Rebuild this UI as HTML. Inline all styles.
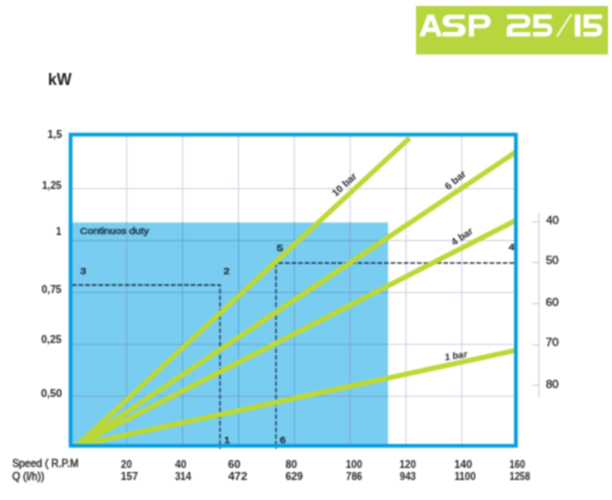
<!DOCTYPE html>
<html><head><meta charset="utf-8">
<style>
html,body{margin:0;padding:0;background:#fff;width:612px;height:500px;overflow:hidden}
svg{display:block}
text{font-family:"Liberation Sans",sans-serif}
</style></head>
<body>
<svg width="612" height="500" viewBox="0 0 612 500">
<defs><filter id="bl" color-interpolation-filters="sRGB" x="0" y="0" width="612" height="500" filterUnits="userSpaceOnUse"><feConvolveMatrix order="3" kernelMatrix="1 2 1 2 4 2 1 2 1" divisor="16" edgeMode="duplicate" preserveAlpha="true"/></filter></defs>
<g filter="url(#bl)">
<rect x="0" y="0" width="612" height="500" fill="#fff"/>

<!-- title box -->
<rect x="416" y="6" width="192" height="48.5" fill="#b7d53f"/>
<g fill="#fff" fill-rule="evenodd">
  <path d="M419.4,36.6 L427.5,14.8 L433.9,14.8 L442,36.6 L437,36.6 L435.3,31.9 L426.4,31.9 L424.6,36.6 Z M430.8,19.9 L433.6,27.4 L428,27.4 Z"/>
  <path d="M464.6,14.8 H449.2 C445.4,14.8 442.5,17.5 442.5,21 C442.5,24.4 445.4,27.1 449.2,27.1 H456.4 C457.7,27.1 458.7,28.2 458.7,29.6 C458.7,31 457.7,32.1 456.4,32.1 H442.5 V36.6 H458.6 C462.5,36.6 465.7,33.6 465.7,29.9 C465.7,26.2 462.5,23.2 458.6,23.2 H451.3 C450,23.2 449,22.3 449,21.1 C449,19.9 450,19 451.3,19 H464.6 Z"/>
  <path d="M468.9,14.8 H484.5 C487.9,14.8 490.7,17.6 490.7,21.5 C490.7,25.2 487.9,28.2 484.5,28.2 H474 V36.6 H468.9 Z M474,19 V24.3 H482.6 C484,24.3 485.1,23.1 485.1,21.65 C485.1,20.2 484,19 482.6,19 Z"/>
  <path d="M507,14.5 H524 C527.5,14.5 530.4,17.3 530.4,21 C530.4,24.8 527.5,28 524,28 H514.5 C513.3,28 512.4,28.9 512.4,30.1 V32.2 H530.4 V36.4 H506.7 V29.8 C506.7,26.3 509.6,23.5 513.1,23.5 H523.4 C524.6,23.5 525.6,22.5 525.6,21.1 C525.6,19.8 524.6,18.7 523.4,18.7 H507 Z"/>
  <path d="M533.4,14.5 H551.7 V18.9 H538.5 V23.6 H545.8 C549.4,23.6 552.3,26.4 552.3,30 C552.3,33.6 549.4,36.5 545.8,36.5 H533.1 V32.1 H545.6 C546.8,32.1 547.8,31.2 547.8,30 C547.8,28.8 546.8,27.9 545.6,27.9 H533.4 Z"/>
  <rect x="574.8" y="14.5" width="5.6" height="22"/>
  <path d="M583.6,14.5 H602 V18.9 H588.8 V23.6 H595.8 C599.4,23.6 602.4,26.4 602.4,30 C602.4,33.6 599.4,36.5 595.8,36.5 H583.4 V32.1 H595.2 C596.3,32.1 597.2,31.2 597.2,30 C597.2,28.8 596.3,27.9 595.2,27.9 H583.6 Z"/>
</g>
<line x1="557" y1="36.5" x2="571.2" y2="14.1" stroke="#fff" stroke-width="1.6"/>

<!-- kW -->
<text x="48.1" y="84.7" font-size="16.2" font-weight="bold" fill="#211c1a" textLength="23.6" lengthAdjust="spacingAndGlyphs">kW</text>

<!-- continuous duty fill -->
<rect x="72" y="222.5" width="316" height="221.5" fill="#78cdf1"/>

<!-- grid -->
<defs><clipPath id="cb"><rect x="72" y="222.5" width="316" height="221.5"/></clipPath></defs>
<g stroke="#d3cae0" stroke-width="1">
  <line x1="126.8" y1="136" x2="126.8" y2="444"/>
  <line x1="182.6" y1="136" x2="182.6" y2="444"/>
  <line x1="238.5" y1="136" x2="238.5" y2="444"/>
  <line x1="294.3" y1="136" x2="294.3" y2="444"/>
  <line x1="350.1" y1="136" x2="350.1" y2="444"/>
  <line x1="406" y1="136" x2="406" y2="444"/>
  <line x1="461.8" y1="136" x2="461.8" y2="444"/>
  <line x1="72" y1="188.7" x2="515" y2="188.7"/>
  <line x1="72" y1="240.6" x2="515" y2="240.6"/>
  <line x1="72" y1="292.4" x2="515" y2="292.4"/>
  <line x1="72" y1="344.3" x2="515" y2="344.3"/>
  <line x1="72" y1="396.2" x2="515" y2="396.2"/>
</g>
<g clip-path="url(#cb)">
<g stroke="#58a6d6" stroke-width="1">
  <line x1="126.8" y1="136" x2="126.8" y2="444"/>
  <line x1="182.6" y1="136" x2="182.6" y2="444"/>
  <line x1="238.5" y1="136" x2="238.5" y2="444"/>
  <line x1="294.3" y1="136" x2="294.3" y2="444"/>
  <line x1="350.1" y1="136" x2="350.1" y2="444"/>
  <line x1="406" y1="136" x2="406" y2="444"/>
  <line x1="461.8" y1="136" x2="461.8" y2="444"/>
  <line x1="72" y1="188.7" x2="515" y2="188.7"/>
  <line x1="72" y1="240.6" x2="515" y2="240.6"/>
  <line x1="72" y1="292.4" x2="515" y2="292.4"/>
  <line x1="72" y1="344.3" x2="515" y2="344.3"/>
  <line x1="72" y1="396.2" x2="515" y2="396.2"/>
</g>
</g>

<!-- dashed -->
<g stroke="rgba(15,28,50,0.9)" stroke-width="1.3" stroke-dasharray="4.6 2" fill="none">
  <path d="M72,285 H220 V449"/>
  <path d="M514,263 H276 V449"/>
</g>


<!-- markers -->
<text x="80.32" y="273.88" font-size="9.90" fill="#1a2530" textLength="5.92" lengthAdjust="spacingAndGlyphs" stroke="#1a2530" stroke-width="0.5">3</text>
<text x="223.40" y="274.38" font-size="9.90" fill="#1a2530" textLength="6.11" lengthAdjust="spacingAndGlyphs" stroke="#1a2530" stroke-width="0.5">2</text>
<text x="276.70" y="250.68" font-size="9.90" fill="#1a2530" textLength="6.32" lengthAdjust="spacingAndGlyphs" stroke="#1a2530" stroke-width="0.5">5</text>
<text x="508.89" y="250.47" font-size="9.90" fill="#1a2530" textLength="5.78" lengthAdjust="spacingAndGlyphs" stroke="#1a2530" stroke-width="0.5">4</text>
<text x="224.37" y="443.27" font-size="9.90" fill="#1a2530" textLength="5.78" lengthAdjust="spacingAndGlyphs" stroke="#1a2530" stroke-width="0.5">1</text>
<text x="279.82" y="443.27" font-size="9.90" fill="#1a2530" textLength="5.92" lengthAdjust="spacingAndGlyphs" stroke="#1a2530" stroke-width="0.5">6</text>
<text x="80.03" y="234.47" font-size="9.45" fill="#1c2d3d" textLength="68.78" lengthAdjust="spacingAndGlyphs" stroke="#1c2d3d" stroke-width="0.45">Continuos duty</text>
<!-- green lines -->
<defs><clipPath id="gc"><rect x="69" y="120" width="450" height="325.6"/></clipPath></defs>
<g stroke="#bcd837" stroke-width="5.1" fill="none" stroke-linecap="butt" clip-path="url(#gc)">
  <line x1="76" y1="446.5" x2="409.6" y2="138"/>
  <line x1="75.5" y1="446.3" x2="516" y2="151.9"/>
  <line x1="75.5" y1="446" x2="516" y2="220.2"/>
  <line x1="75.5" y1="446" x2="516" y2="350.2"/>
</g>

<!-- line labels -->
<g font-size="10" font-weight="bold" fill="#2a2a2a" text-anchor="middle">
  <text transform="translate(344.2,184.5) rotate(-42.5)" dy="3.4">10 bar</text>
  <text transform="translate(455.3,180) rotate(-40)" dy="3.4">6 bar</text>
  <text transform="translate(462,236.5) rotate(-34)" dy="3.4">4 bar</text>
  <text transform="translate(456,355.5) skewY(-9)" dy="3.3" font-size="9.5">1 bar</text>
</g>

<!-- frame -->
<rect x="70.6" y="134.6" width="445.3" height="311.2" fill="none" stroke="#049ee0" stroke-width="3.7"/>


<!-- y labels -->
<text x="47.48" y="137.88" font-size="10.40" font-weight="bold" fill="#262626" textLength="14.44" lengthAdjust="spacingAndGlyphs">1,5</text>
<text x="41.99" y="189.18" font-size="10.40" font-weight="bold" fill="#262626" textLength="19.62" lengthAdjust="spacingAndGlyphs">1,25</text>
<text x="56.03" y="234.58" font-size="10.40" font-weight="bold" fill="#262626" textLength="5.32" lengthAdjust="spacingAndGlyphs">1</text>
<text x="41.54" y="292.97" font-size="10.40" font-weight="bold" fill="#262626" textLength="20.08" lengthAdjust="spacingAndGlyphs">0,75</text>
<text x="41.23" y="343.47" font-size="10.40" font-weight="bold" fill="#262626" textLength="20.40" lengthAdjust="spacingAndGlyphs">0,25</text>
<text x="41.02" y="396.97" font-size="10.40" font-weight="bold" fill="#262626" textLength="20.98" lengthAdjust="spacingAndGlyphs">0,50</text>
<!-- right axis -->
<g stroke="rgba(110,100,150,0.36)" stroke-width="1">
  <line x1="539" y1="213" x2="539" y2="397"/>
  <line x1="532" y1="221.8" x2="539" y2="221.8"/>
  <line x1="532" y1="262.4" x2="539" y2="262.4"/>
  <line x1="532" y1="303.6" x2="539" y2="303.6"/>
  <line x1="532" y1="344.8" x2="539" y2="344.8"/>
  <line x1="532" y1="385.4" x2="539" y2="385.4"/>
</g>

<text x="546.17" y="223.98" font-size="10.00" fill="#262626" textLength="12.45" lengthAdjust="spacingAndGlyphs" stroke="#262626" stroke-width="0.35">40</text>
<text x="546.00" y="263.88" font-size="10.00" fill="#262626" textLength="12.64" lengthAdjust="spacingAndGlyphs" stroke="#262626" stroke-width="0.35">50</text>
<text x="545.88" y="305.77" font-size="10.00" fill="#262626" textLength="12.76" lengthAdjust="spacingAndGlyphs" stroke="#262626" stroke-width="0.35">60</text>
<text x="545.88" y="346.27" font-size="10.00" fill="#262626" textLength="12.76" lengthAdjust="spacingAndGlyphs" stroke="#262626" stroke-width="0.35">70</text>
<text x="545.94" y="388.27" font-size="10.00" fill="#262626" textLength="12.70" lengthAdjust="spacingAndGlyphs" stroke="#262626" stroke-width="0.35">80</text>
<!-- x labels -->
<text x="12.18" y="467.38" font-size="10.40" fill="#262626" textLength="66.44" lengthAdjust="spacingAndGlyphs" stroke="#262626" stroke-width="0.4">Speed ( R.P.M</text>
<text x="12.18" y="480.38" font-size="10.40" fill="#262626" textLength="32.20" lengthAdjust="spacingAndGlyphs" stroke="#262626" stroke-width="0.4">Q (l/h))</text>
<text x="121.11" y="467.88" font-size="10.80" font-weight="bold" fill="#262626" textLength="10.85" lengthAdjust="spacingAndGlyphs">20</text>
<text x="120.78" y="479.97" font-size="10.80" font-weight="bold" fill="#262626" textLength="17.28" lengthAdjust="spacingAndGlyphs">157</text>
<text x="175.00" y="467.88" font-size="10.80" font-weight="bold" fill="#262626" textLength="11.49" lengthAdjust="spacingAndGlyphs">40</text>
<text x="174.91" y="479.97" font-size="10.80" font-weight="bold" fill="#262626" textLength="16.33" lengthAdjust="spacingAndGlyphs">314</text>
<text x="228.05" y="467.88" font-size="10.80" font-weight="bold" fill="#262626" textLength="12.57" lengthAdjust="spacingAndGlyphs">60</text>
<text x="228.28" y="479.97" font-size="10.80" font-weight="bold" fill="#262626" textLength="18.97" lengthAdjust="spacingAndGlyphs">472</text>
<text x="285.54" y="467.88" font-size="10.80" font-weight="bold" fill="#262626" textLength="11.66" lengthAdjust="spacingAndGlyphs">80</text>
<text x="285.48" y="479.97" font-size="10.80" font-weight="bold" fill="#262626" textLength="17.47" lengthAdjust="spacingAndGlyphs">629</text>
<text x="345.81" y="467.88" font-size="10.80" font-weight="bold" fill="#262626" textLength="16.36" lengthAdjust="spacingAndGlyphs">100</text>
<text x="346.02" y="479.97" font-size="10.80" font-weight="bold" fill="#262626" textLength="16.11" lengthAdjust="spacingAndGlyphs">786</text>
<text x="399.51" y="467.88" font-size="10.80" font-weight="bold" fill="#262626" textLength="16.36" lengthAdjust="spacingAndGlyphs">120</text>
<text x="399.81" y="479.97" font-size="10.80" font-weight="bold" fill="#262626" textLength="16.01" lengthAdjust="spacingAndGlyphs">943</text>
<text x="454.35" y="467.88" font-size="10.80" font-weight="bold" fill="#262626" textLength="17.86" lengthAdjust="spacingAndGlyphs">140</text>
<text x="454.41" y="479.97" font-size="10.80" font-weight="bold" fill="#262626" textLength="21.43" lengthAdjust="spacingAndGlyphs">1100</text>
<text x="509.55" y="467.88" font-size="10.80" font-weight="bold" fill="#262626" textLength="15.51" lengthAdjust="spacingAndGlyphs">160</text>
<text x="509.55" y="479.97" font-size="10.80" font-weight="bold" fill="#262626" textLength="20.58" lengthAdjust="spacingAndGlyphs">1258</text>
</g>
</svg>
</body></html>
